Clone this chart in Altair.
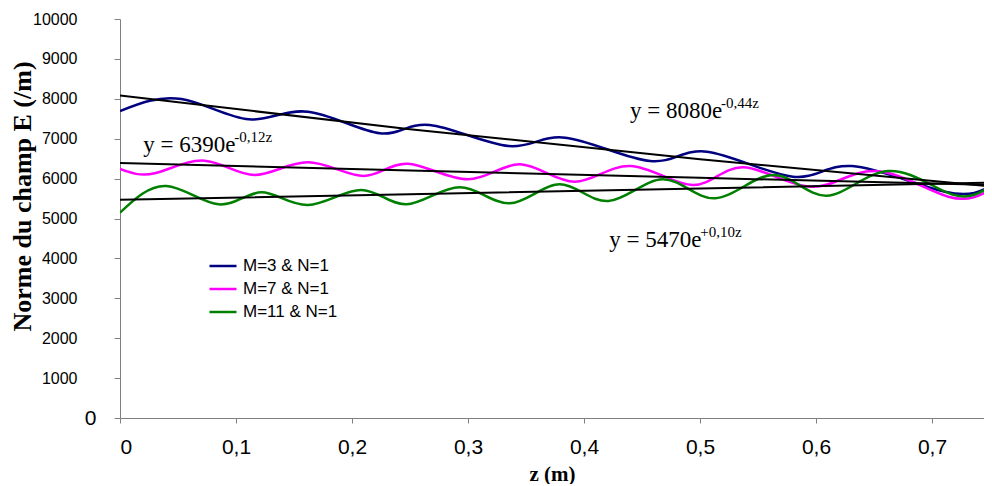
import altair as alt
import pandas as pd

# ---- data ----
series_names = ["M=3 & N=1", "M=7 & N=1", "M=11 & N=1"]
series_colors = ["#000080", "#FF00FF", "#008000"]

z_m3 = [0.0, 0.053, 0.111, 0.162, 0.224, 0.267, 0.335, 0.384, 0.457, 0.506, 0.580, 0.631, 0.711, 0.752]
e_m3 = [7693, 7994, 7485, 7677, 7134, 7343, 6816, 7025, 6440, 6674, 6048, 6315, 5671, 5839]

z_m7 = [0.0, 0.030, 0.073, 0.116, 0.162, 0.210, 0.248, 0.300, 0.345, 0.392, 0.440, 0.494, 0.537, 0.596, 0.651, 0.714, 0.752]
e_m7 = [6240, 6132, 6449, 6090, 6407, 6065, 6374, 5982, 6358, 5922, 6315, 5839, 6282, 5796, 6190, 5546, 5756]

z_m11 = [0.0, 0.040, 0.085, 0.122, 0.162, 0.208, 0.247, 0.293, 0.336, 0.379, 0.421, 0.468, 0.513, 0.563, 0.609, 0.662, 0.717, 0.752]
e_m11 = [5145, 5814, 5355, 5656, 5338, 5714, 5355, 5781, 5380, 5856, 5438, 5982, 5506, 6090, 5571, 6190, 5605, 5839]

trend_z = [0.0, 0.25, 0.5, 0.75]
trend_m3 = [8080, 7238, 6484, 5809]
trend_m7 = [6390, 6202, 6019, 5842]
trend_m11 = [5470, 5608, 5750, 5896]

ann_base = ["y = 8080e", "y = 6390e", "y = 5470e"]
ann_sup = ["-0,44z", "-0,12z", "+0,10z"]
ann_z = [0.4397, 0.0201, 0.4218]
ann_e = [7510, 6673, 4289]

x_ticks = [0, 0.1, 0.2, 0.3, 0.4, 0.5, 0.6, 0.7]
y_ticks = [0, 1000, 2000, 3000, 4000, 5000, 6000, 7000, 8000, 9000, 10000]

# ---- tables ----
rows = []
for name, zs, es in zip(series_names, [z_m3, z_m7, z_m11], [e_m3, e_m7, e_m11]):
    for z, e in zip(zs, es):
        rows.append({"z": z, "E": e, "serie": name})
df = pd.DataFrame(rows)

trows = []
for name, es in zip(series_names, [trend_m3, trend_m7, trend_m11]):
    for z, e in zip(trend_z, es):
        trows.append({"z": z, "E": e, "fit": name})
tdf = pd.DataFrame(trows)

adf = pd.DataFrame({"z": ann_z, "E": ann_e, "base": ann_base, "sup": ann_sup})

x_scale = alt.Scale(domain=[0, 0.7448], nice=False, zero=False)
y_scale = alt.Scale(domain=[0, 10000], nice=False)

x_axis = alt.Axis(
    values=x_ticks, title="z (m)",
    labelExpr="replace(format(datum.value, '.1~f'), '.', ',')",
    labelFont="Liberation Sans", labelFontSize=21, labelColor="#000",
    labelPadding=13, tickSize=5, tickColor="#808080", domainColor="#808080",
    labelOverlap=False, grid=False,
    titleFont="Liberation Serif", titleFontWeight="bold",
    titleFontSize=21, titleColor="#000", titleBaseline="middle", titleY=56,
)
y_axis = alt.Axis(
    values=y_ticks, format="d", title="Norme du champ E (/m)",
    labelFont="Liberation Sans",
    labelFontSize={"condition": {"test": "datum.value == 0", "value": 21}, "value": 16},
    labelPadding={"condition": {"test": "datum.value == 0", "value": 18}, "value": 37},
    labelColor="#000", tickSize=6, tickColor="#808080", domainColor="#808080",
    labelOverlap=False, labelBound=False, grid=False,
    titleFont="Liberation Serif", titleFontWeight="bold",
    titleFontSize=26, titleColor="#000", titleBaseline="middle",
    titleX=-98, titleY=177, titleAngle=270,
)

def xe():
    return alt.X("z:Q", scale=x_scale, axis=x_axis)

def ye():
    return alt.Y("E:Q", scale=y_scale, axis=y_axis)

lines = alt.Chart(df).mark_line(strokeWidth=2.5, interpolate="natural", clip=True).encode(
    x=xe(), y=ye(),
    color=alt.Color(
        "serie:N",
        scale=alt.Scale(domain=series_names, range=series_colors),
        legend=alt.Legend(
            orient="none", legendX=88, legendY=232, title=None,
            symbolType="stroke", symbolSize=729, symbolStrokeWidth=2.5,
            labelFont="Liberation Sans", labelFontSize=17, labelColor="#000",
            rowPadding=-5, padding=0, labelOffset=5,
        ),
    ),
)

trend = alt.Chart(tdf).mark_line(color="black", strokeWidth=2, clip=True).encode(
    x=xe(), y=ye(), detail="fit:N"
)

base_txt = alt.Chart(adf).mark_text(
    align="left", baseline="alphabetic", font="Liberation Serif", fontSize=23, color="black"
).encode(x=xe(), y=ye(), text="base:N")

sup_txt = alt.Chart(adf).mark_text(
    align="left", baseline="alphabetic", font="Liberation Serif", fontSize=15, color="black",
    dx=91, dy=-10,
).encode(x=xe(), y=ye(), text="sup:N")

chart = alt.layer(lines, trend, base_txt, sup_txt).properties(
    width=864, height=399,
    autosize=alt.AutoSizeParams(type="none"),
    padding={"left": 112, "top": 11, "right": 0, "bottom": 66},
    background="white",
).configure_view(strokeWidth=0).configure_axis(labelOverlap=False)

chart.save("out.html", embed_options={"renderer": "svg", "actions": False})
